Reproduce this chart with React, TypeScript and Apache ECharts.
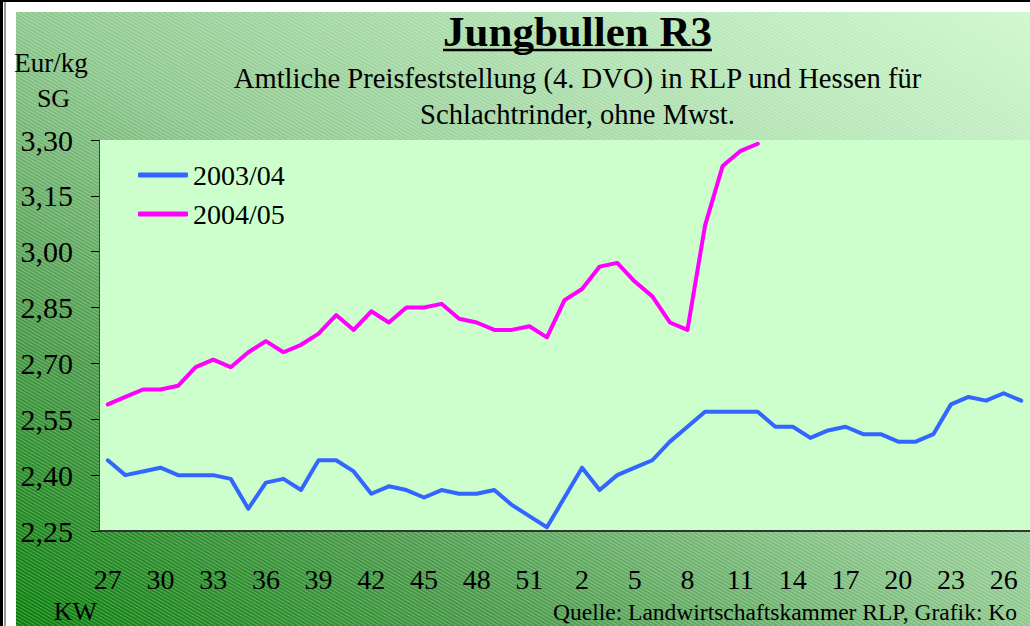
import React, { useEffect, useRef } from "react";
import * as echarts from "echarts";

const FONT = '"Liberation Serif", "Times New Roman", serif';

const weeks = [
  "27", "28", "29", "30", "31", "32", "33", "34", "35", "36", "37", "38", "39",
  "40", "41", "42", "43", "44", "45", "46", "47", "48", "49", "50", "51", "52",
  "1", "2", "3", "4", "5", "6", "7", "8", "9", "10", "11", "12", "13", "14",
  "15", "16", "17", "18", "19", "20", "21", "22", "23", "24", "25", "26", "27",
];

const seriesNames = ["2003/04", "2004/05"];

const prices2003 = [
  2.44, 2.40, 2.41, 2.42, 2.40, 2.40, 2.40, 2.39, 2.31, 2.38, 2.39, 2.36, 2.44,
  2.44, 2.41, 2.35, 2.37, 2.36, 2.34, 2.36, 2.35, 2.35, 2.36, 2.32, 2.29, 2.26,
  2.34, 2.42, 2.36, 2.40, 2.42, 2.44, 2.49, 2.53, 2.57, 2.57, 2.57, 2.57, 2.53,
  2.53, 2.50, 2.52, 2.53, 2.51, 2.51, 2.49, 2.49, 2.51, 2.59, 2.61, 2.60, 2.62,
  2.60,
];

const prices2004 = [
  2.59, 2.61, 2.63, 2.63, 2.64, 2.69, 2.71, 2.69, 2.73, 2.76, 2.73, 2.75, 2.78,
  2.83, 2.79, 2.84, 2.81, 2.85, 2.85, 2.86, 2.82, 2.81, 2.79, 2.79, 2.80, 2.77,
  2.87, 2.90, 2.96, 2.97, 2.92, 2.88, 2.81, 2.79, 3.07, 3.23, 3.27, 3.29,
];

const Y_MIN = 2.25;
const Y_MAX = 3.3;
const Y_STEP = 0.15;

// decorative hatch pattern for the background
function buildHatch(x0: number, y0: number, x1: number, y1: number, s: number, h: number) {
  let d = "";
  const bStart = y0 - s * x1;
  const bEnd = y1 - s * x0;
  for (let b = bStart; b <= bEnd; b += s * h) {
    const xa = Math.max(x0, (y0 - b) / s);
    const xb = Math.min(x1, (y1 - b) / s);
    if (xb <= xa) continue;
    const ya = s * xa + b;
    const yb = s * xb + b;
    d += `M${xa.toFixed(1)} ${ya.toFixed(1)}L${xb.toFixed(1)} ${yb.toFixed(1)}`;
  }
  return d;
}

let hatchRegistered = false;

export default function App() {
  const ref = useRef<HTMLDivElement>(null);

  useEffect(() => {
    if (!ref.current) return;
    if (!hatchRegistered) {
      const d = buildHatch(16, 12, 1030, 626, 0.58, 6);
      echarts.graphic.registerShape("hatch", echarts.graphic.extendPath(d, {}));
      hatchRegistered = true;
    }
    const chart = echarts.init(ref.current, null, { renderer: "svg" });

    const W = 1014;
    const H = 614;
    const f = (2 * W * H) / (W * W + H * H);
    const bgGradient = new echarts.graphic.LinearGradient(
      16,
      626,
      16 + H * f,
      626 - W * f,
      [
        { offset: 0, color: "#0a7f0a" },
        { offset: 0.25, color: "#4a9a4a" },
        { offset: 0.5, color: "#8ec88e" },
        { offset: 0.75, color: "#b1e1b1" },
        { offset: 1, color: "#cdf8cd" },
      ],
      true
    );

    const txt = (
      text: string,
      x: number,
      y: number,
      size: number,
      align: string,
      weight = "normal"
    ) => ({
      type: "text",
      x,
      y,
      z: 10,
      style: {
        text,
        x: 0,
        y: 0,
        fontSize: size,
        fontFamily: FONT,
        fontWeight: weight,
        fill: "#000",
        align,
        verticalAlign: "middle",
        textAlign: align,
        textVerticalAlign: "middle",
      },
    });

    const option: any = {
      animation: false,
      backgroundColor: "#ffffff",
      grid: {
        left: 99,
        top: 140,
        width: 932,
        height: 391,
        show: true,
        backgroundColor: "#ccffcc",
        borderWidth: 0,
      },
      legend: {
        data: seriesNames,
        orient: "vertical",
        left: 138,
        top: 161,
        padding: 0,
        icon: "roundRect",
        itemWidth: 50,
        itemHeight: 5,
        itemGap: 11,
        itemTextGap: 5,
        textStyle: { fontSize: 28, fontFamily: FONT, color: "#000" },
      },
      xAxis: {
        type: "category",
        data: weeks,
        boundaryGap: true,
        axisLine: { lineStyle: { color: "#333333", width: 2 } },
        axisTick: { interval: 0, length: 10, lineStyle: { color: "#000", width: 1 } },
        axisLabel: {
          interval: 2,
          margin: 34,
          fontSize: 28,
          fontFamily: FONT,
          color: "#000",
        },
        splitLine: { show: false },
      },
      yAxis: {
        type: "value",
        min: Y_MIN,
        max: Y_MAX,
        interval: Y_STEP,
        axisLine: { show: true, lineStyle: { color: "#444444", width: 1 } },
        axisTick: { show: true, length: 8, lineStyle: { color: "#000", width: 1 } },
        splitLine: { show: false },
        axisLabel: {
          margin: 26,
          fontSize: 30,
          fontFamily: FONT,
          color: "#000",
          formatter: (v: number) => v.toFixed(2).replace(".", ","),
        },
      },
      series: [
        {
          name: seriesNames[0],
          type: "line",
          data: prices2003,
          symbol: "none",
          itemStyle: { color: "#3366ff" },
          lineStyle: { color: "#3366ff", width: 4, cap: "round", join: "round" },
          z: 3,
        },
        {
          name: seriesNames[1],
          type: "line",
          data: prices2004,
          symbol: "none",
          itemStyle: { color: "#ff00ff" },
          lineStyle: { color: "#ff00ff", width: 4, cap: "round", join: "round" },
          z: 3,
        },
      ],
      graphic: {
        elements: [
          { type: "rect", z: -100, shape: { x: 16, y: 12, width: 1014, height: 614 }, style: { fill: bgGradient } },
          { type: "hatch", z: -90, silent: true, style: { stroke: "rgba(255,255,255,0.3)", fill: "none", lineWidth: 1 } },
          { type: "rect", z: -80, shape: { x: 0, y: 0, width: 3, height: 626 }, style: { fill: "#000" } },
          { type: "rect", z: -80, shape: { x: 0, y: 0, width: 1030, height: 2 }, style: { fill: "#000" } },
          { type: "rect", z: -80, shape: { x: 4.5, y: 2, width: 1, height: 624 }, style: { fill: "#333" } },
          txt("Jungbullen R3", 577.5, 31, 43, "center", "bold"),
          { type: "line", z: 10, shape: { x1: 443, y1: 50, x2: 712, y2: 50 }, style: { stroke: "#000", lineWidth: 2.5 } },
          txt("Amtliche Preisfeststellung (4. DVO) in RLP und Hessen für", 577.5, 78, 28.6, "center"),
          txt("Schlachtrinder, ohne Mwst.", 577.5, 114, 28.6, "center"),
          txt("Eur/kg", 51, 63, 27, "center"),
          txt("SG", 53.5, 98, 26, "center"),
          txt("KW", 75.5, 611, 26, "center"),
          txt("Quelle: Landwirtschaftskammer RLP, Grafik: Ko", 553, 612, 23.5, "left"),
        ],
      },
    };

    chart.setOption(option);
    return () => chart.dispose();
  }, []);

  return (
    <div
      ref={ref}
      style={{ position: "fixed", left: 0, top: 0, width: 1030, height: 626 }}
    />
  );
}
